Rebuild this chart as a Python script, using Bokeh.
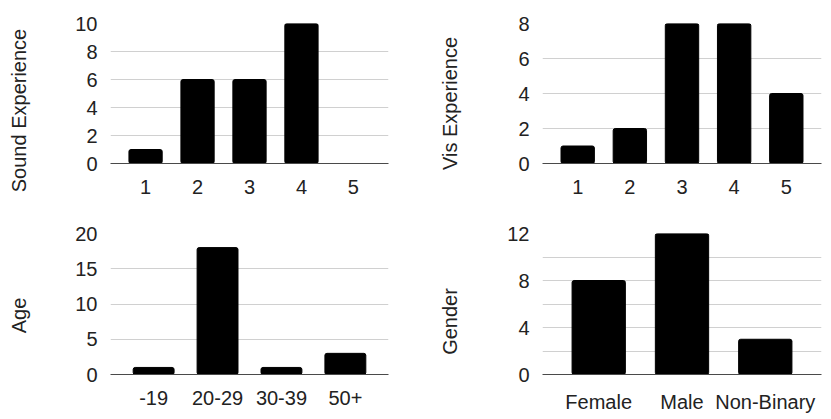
import math
from bokeh.plotting import figure
from bokeh.models import FactorRange, Range1d, FixedTicker
from bokeh.core.properties import value
from bokeh.layouts import row, column
from bokeh.embed import file_html
from bokeh.resources import INLINE

sound_cats = ["1", "2", "3", "4", "5"]
sound_vals = [1, 6, 6, 10, 0]
vis_cats = ["1", "2", "3", "4", "5"]
vis_vals = [1, 2, 8, 8, 4]
age_cats = ["-19", "20-29", "30-39", "50+"]
age_vals = [1, 18, 1, 3]
gender_cats = ["Female", "Male", "Non-Binary"]
gender_vals = [8, 12, 3]
titles = ["Sound Experience", "Vis Experience", "Age", "Gender"]

FONT = "Liberation Sans"
TXT = "#222222"
FS = "20px"


def chart(cats, vals, ymax, ticks, grid, fw, fh, bl, br, bt, bb):
    p = figure(x_range=FactorRange(*cats, range_padding=0.175, range_padding_units="absolute"),
               y_range=Range1d(0, ymax),
               frame_width=fw, frame_height=fh,
               min_border_left=bl, min_border_right=br,
               min_border_top=bt, min_border_bottom=bb,
               toolbar_location=None, output_backend="svg")
    p.title.visible = False
    p.vbar(x=cats, top=vals, width=0.64, color="black", border_radius=2)
    p.outline_line_color = None
    p.xgrid.grid_line_color = None
    p.ygrid.grid_line_color = "#d0d0d0"
    p.ygrid.ticker = FixedTicker(ticks=grid)
    p.yaxis.ticker = FixedTicker(ticks=ticks)
    for ax in (p.xaxis, p.yaxis):
        ax.major_tick_line_color = None
        ax.minor_tick_line_color = None
        ax.major_label_text_font = FONT
        ax.major_label_text_font_size = FS
        ax.major_label_text_color = TXT
    p.yaxis.axis_line_color = None
    p.yaxis.major_label_standoff = 7
    p.xaxis.axis_line_color = "#4a4a4a"
    p.xaxis.major_label_standoff = 10
    return p


def title_fig(title, w, h, cx, cy):
    p = figure(x_range=Range1d(0, w), y_range=Range1d(0, h),
               frame_width=w, frame_height=h,
               min_border_left=0, min_border_right=0,
               min_border_top=0, min_border_bottom=0,
               toolbar_location=None, output_backend="svg")
    p.title.visible = False
    p.axis.visible = False
    p.grid.grid_line_color = None
    p.outline_line_color = None
    p.text(x=[cx], y=[h - cy], text=[title], angle=math.pi / 2,
           text_align="center", text_baseline="middle",
           text_font=value(FONT), text_font_size=value(FS), text_color=TXT)
    return p


H1, H2 = 210, 204
W_A, W_C = 40, 55

l1 = title_fig(titles[0], W_A, H1, 18, 87)
p1 = chart(sound_cats, sound_vals, 10, [0, 2, 4, 6, 8, 10], [2, 4, 6, 8, 10],
           278, 140, 70, 27, 23, 47)
l2 = title_fig(titles[1], W_C, H1, 34, 80)
p2 = chart(vis_cats, vis_vals, 8, [0, 2, 4, 6, 8], [2, 4, 6, 8],
           279, 140, 72, 4, 23, 47)
l3 = title_fig(titles[2], W_A, H2, 18, 82)
p3 = chart(age_cats, age_vals, 20, [0, 5, 10, 15, 20], [5, 10, 15, 20],
           278, 141, 70, 27, 23, 40)
l4 = title_fig(titles[3], W_C, H2, 34, 88)
p4 = chart(gender_cats, gender_vals, 12, [0, 4, 8, 12], [2, 4, 6, 8, 10, 12],
           279, 141, 72, 4, 23, 40)

layout = column(row(l1, p1, l2, p2), row(l3, p3, l4, p4))
open("out.html", "w").write(file_html(layout, INLINE))
